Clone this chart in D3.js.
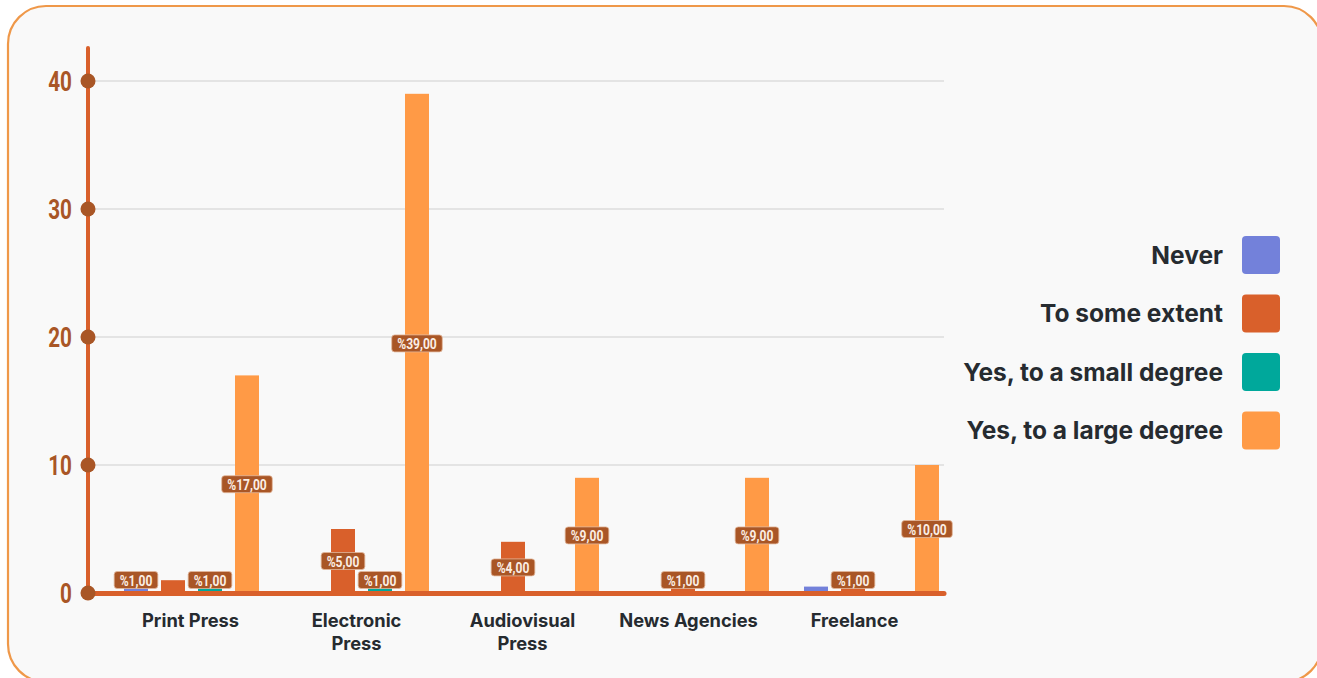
<!DOCTYPE html>
<html>
<head>
<meta charset="utf-8">
<script src="https://cdn.jsdelivr.net/npm/d3@7"></script>
<style>
  html, body { margin: 0; padding: 0; background: #ffffff; }
  svg { display: block; }
</style>
</head>
<body>
<svg id="chart" width="1317" height="678"></svg>
<script>
// Media categories shown along the x axis
const categories = ["Print Press", "Electronic Press", "Audiovisual Press", "News Agencies", "Freelance"];
// Answer series, in legend order
const seriesNames = ["Never", "To some extent", "Yes, to a small degree", "Yes, to a large degree"];
const seriesColors = ["#7381da", "#d9602b", "#00a89b", "#ff9a46"];
// Values per category, one array per series
const neverValues = [1, 0, 0, 0, 0.5];
const someExtentValues = [1, 5, 4, 1, 1];
const smallDegreeValues = [1, 1, 0, 0, 0];
const largeDegreeValues = [17, 39, 9, 9, 10];
// Which bars carry a value label
const neverLabeled = [true, false, false, false, false];
const someExtentLabeled = [false, true, true, true, true];
const smallDegreeLabeled = [true, true, false, false, false];
const largeDegreeLabeled = [true, true, true, true, true];
const yTicks = [0, 10, 20, 30, 40];

const seriesValues = [neverValues, someExtentValues, smallDegreeValues, largeDegreeValues];
const seriesLabeled = [neverLabeled, someExtentLabeled, smallDegreeLabeled, largeDegreeLabeled];

const svg = d3.select("#chart");

// Card background
svg.append("rect")
  .attr("x", 8).attr("y", 6)
  .attr("width", 1314).attr("height", 676)
  .attr("rx", 38).attr("ry", 38)
  .attr("fill", "#f9f9f9")
  .attr("stroke", "#ef9849").attr("stroke-width", 2.2);

const axisColor = "#d9602b";
const brown = "#a95626";
const numFont = "Roboto, 'DejaVu Sans', sans-serif";
const textFont = "Inter, Lato, 'Noto Sans', sans-serif";

const x0 = 88, xEnd = 944;
const y = d3.scaleLinear().domain([0, 40]).range([593, 81]);

// Group positions for bars
const xGroup = d3.scaleBand().domain(categories)
  .range([106.5, 956.5]).paddingInner(0.206).paddingOuter(0.103);
const xSeries = d3.scaleBand().domain(seriesNames)
  .range([0, xGroup.bandwidth()]).paddingInner(0.3514).paddingOuter(0);
// Category label positions
const xLabel = d3.scaleBand().domain(categories).range([107.5, 937.5]);

// Gridlines
svg.append("g").selectAll("line")
  .data(yTicks.filter(t => t > 0))
  .join("line")
  .attr("x1", x0).attr("x2", xEnd)
  .attr("y1", d => y(d)).attr("y2", d => y(d))
  .attr("stroke", "#e4e4e4").attr("stroke-width", 2.2);

// Bars
const barData = [];
categories.forEach((c, ci) => {
  seriesNames.forEach((s, si) => {
    barData.push({ cat: c, series: s, si, value: seriesValues[si][ci], labeled: seriesLabeled[si][ci] });
  });
});

svg.append("g").selectAll("rect")
  .data(barData.filter(d => d.value > 0))
  .join("rect")
  .attr("x", d => xGroup(d.cat) + xSeries(d.series))
  .attr("width", xSeries.bandwidth())
  .attr("y", d => y(d.value))
  .attr("height", d => y(0) - y(d.value))
  .attr("fill", d => seriesColors[d.si]);

// Axis lines
svg.append("line")
  .attr("x1", x0).attr("x2", x0).attr("y1", 48).attr("y2", 596)
  .attr("stroke", axisColor).attr("stroke-width", 4).attr("stroke-linecap", "round");
svg.append("line")
  .attr("x1", x0).attr("x2", xEnd).attr("y1", 593.5).attr("y2", 593.5)
  .attr("stroke", axisColor).attr("stroke-width", 5).attr("stroke-linecap", "round");

// Y ticks: dots and narrow labels
const yAxis = svg.append("g");
yAxis.selectAll("circle").data(yTicks).join("circle")
  .attr("cx", x0).attr("cy", d => y(d)).attr("r", 7.5).attr("fill", brown);
yAxis.selectAll("g").data(yTicks).join("g")
  .attr("transform", d => `translate(72,${y(d)}) scale(0.74,1)`)
  .append("text")
  .attr("dy", "0.36em")
  .attr("text-anchor", "end")
  .attr("font-family", numFont).attr("font-weight", "bold")
  .attr("font-size", 28).attr("fill", brown)
  .text(d => d);

// Category labels (wrapped to two lines where needed)
const catLines = {
  "Print Press": ["Print Press"],
  "Electronic Press": ["Electronic", "Press"],
  "Audiovisual Press": ["Audiovisual", "Press"],
  "News Agencies": ["News Agencies"],
  "Freelance": ["Freelance"]
};
const catG = svg.append("g");
categories.forEach(c => {
  const cx = xLabel(c) + xLabel.bandwidth() / 2;
  const t = catG.append("text")
    .attr("x", cx).attr("y", 627)
    .attr("text-anchor", "middle")
    .attr("font-family", textFont).attr("font-weight", "bold")
    .attr("font-size", 18.3).attr("fill", "#262b30");
  catLines[c].forEach((line, i) => {
    t.append("tspan").attr("x", cx).attr("dy", i === 0 ? 0 : 23).text(line);
  });
});

// Value labels
const fmt = v => "%" + v.toFixed(2).replace(".", ",");
const labelSx = 0.78;
const labelG = svg.append("g");
barData.filter(d => d.labeled).forEach(d => {
  const cx = xGroup(d.cat) + xSeries(d.series) + xSeries.bandwidth() / 2;
  const cy = Math.min(y(d.value / 2), y(0) - 13);
  const g = labelG.append("g");
  const box = g.append("rect");
  const tg = g.append("g").attr("transform", `translate(${cx},${cy}) scale(${labelSx},1)`);
  const t = tg.append("text")
    .attr("dy", "0.36em")
    .attr("text-anchor", "middle")
    .attr("font-family", numFont).attr("font-weight", "bold")
    .attr("font-size", 15.5).attr("fill", "#fbeee4")
    .text(fmt(d.value));
  const w = t.node().getComputedTextLength() * labelSx + 11;
  box.attr("x", cx - w / 2).attr("y", cy - 8.5)
    .attr("width", w).attr("height", 17)
    .attr("rx", 3).attr("fill", brown)
    .attr("stroke", "#e2b79c").attr("stroke-width", 0.8);
});

// Legend
const legend = svg.append("g");
seriesNames.forEach((s, i) => {
  const cy = 255 + i * 58.5;
  legend.append("rect")
    .attr("x", 1242).attr("y", cy - 19)
    .attr("width", 38).attr("height", 38).attr("rx", 4)
    .attr("fill", seriesColors[i]);
  legend.append("text")
    .attr("x", 1223).attr("y", cy).attr("dy", "0.36em")
    .attr("text-anchor", "end")
    .attr("font-family", textFont).attr("font-weight", "bold")
    .attr("font-size", 24.5).attr("fill", "#262b30")
    .text(s);
});
</script>
</body>
</html>
